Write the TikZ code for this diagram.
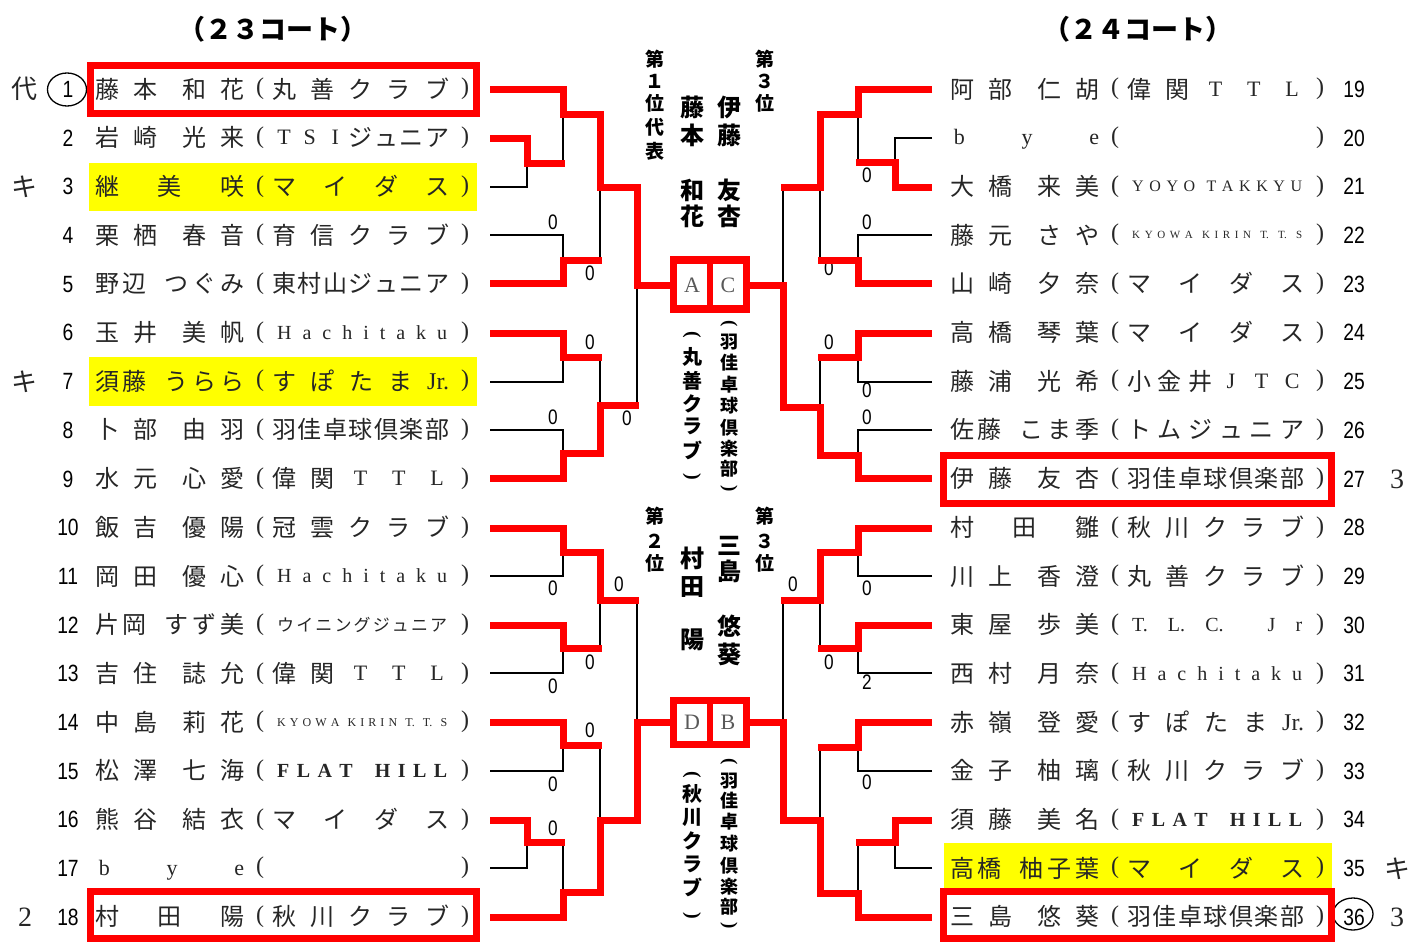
\documentclass[tikz,border=0pt]{standalone}
\usepackage{fontspec}
\setmainfont{Liberation Serif}
\newfontfamily\jp{Noto Sans CJK JP}
\newfontfamily\nf[FakeStretch=0.82]{Liberation Sans}
\definecolor{rd}{HTML}{FF0000}
\definecolor{yl}{HTML}{FFFF00}
\newcommand\fl{\hskip 0pt plus 1fill\relax}
\newcommand\fll[1]{\hskip 0pt plus #1fill\relax}
\newcommand\la[2][20]{\raisebox{\dimexpr 9pt-#1pt*33/100\relax}{\rmfamily\fontsize{#1}{#1}\selectfont #2}}
\newcommand\fw[2][22]{\makebox[24pt]{\la[#1]{#2}}}
\newcommand\lcl[2][20]{\raisebox{\dimexpr 9pt-#1pt*33/100\relax}{\rmfamily\fontsize{#1}{#1}\selectfont\hbox to 177pt{\hskip 5pt #2\hskip 2pt}}}
\newcommand\nA[4]{\hbox to 149pt{#1\fl #2\fll{1.8}#3\fl #4}}
\newcommand\nB[3]{\hbox to 149pt{#1\fl #2\fl #3}}
\newcommand\nC[5]{\hbox to 149pt{#1\fl #2\fll{5}#3\fl #4\fl #5}}
\newcommand\cl[1]{\hbox to 177pt{#1}}
\newcommand\plyr[6]{%
  \pgfmathsetmacro\ry{89+48.7*(#2-1)}%
  \node[txt] (nm#3) at ({95+#1},{\ry+9}) {#4};
  \node[par] (pl#3) at ({260+#1},{\ry+5.7}) {(};
  \node[txt] (cl#3) at ({272+#1},{\ry+9}) {#5};
  \node[par] (pr#3) at ({465+#1},{\ry+5.7}) {)};
  \node[num] (no#3) at ({#6},{\ry+8.4}) {#3};
}
\tikzset{
  txt/.style={anchor=base west, inner sep=0, font=\jp\fontsize{24}{24}\selectfont, text=black!85},
  par/.style={anchor=base, inner sep=0, font=\rmfamily\fontsize{24}{24}\selectfont, text=black!85},
  num/.style={anchor=base, inner sep=0, font=\nf\fontsize{23.5}{23.5}\selectfont},
  sc/.style={anchor=base, inner sep=0, font=\nf\fontsize{21}{21}\selectfont},
  mk/.style={anchor=base, inner sep=0, font=\jp\fontsize{26}{26}\selectfont, text=black!85},
  mkd/.style={anchor=base, inner sep=0, font=\rmfamily\fontsize{28}{28}\selectfont, text=black!85},
  vb/.style={anchor=base, inner sep=0, font=\jp\bfseries\fontsize{#1}{#1}\selectfont, yshift={-0.38*#1}},
  vp/.style={rotate=-90, inner sep=0, font=\rmfamily\bfseries\fontsize{#1}{#1}\selectfont},
  bx/.style={anchor=base, inner sep=0, font=\rmfamily\fontsize{22}{22}\selectfont, text=black!65},
  blk/.style={line width=2.3, black},
  rl/.style={rd, line width=7, line join=miter},
}
\begin{document}
\begin{tikzpicture}[x=1pt,y=-1pt]
\useasboundingbox (0,0) rectangle (1413,942);
% yellow highlights
\fill[yl] (89,163) rectangle (477,211);
\fill[yl] (89,357) rectangle (477,406);
\fill[yl] (944,843) rectangle (1332,888);
% headers
\node[anchor=base, inner sep=0, font=\jp\bfseries\fontsize{27}{27}\selectfont] (h1) at (273,39.5) {（２３コート）};
\node[anchor=base, inner sep=0, font=\jp\bfseries\fontsize{27}{27}\selectfont] (h2) at (1138,39.5) {（２４コート）};
% left players
\plyr{0}{1}{1}{\nA{藤}{本}{和}{花}}{\cl{丸\fl 善\fl ク\fl ラ\fl ブ}}{68}
\plyr{0}{2}{2}{\nA{岩}{崎}{光}{来}}{\cl{\fw{T}\fl\fw{S}\fl\fw{I}\fl ジ\fl ュ\fl ニ\fl ア}}{68}
\plyr{0}{3}{3}{\nB{継}{美}{咲}}{\cl{マ\fl イ\fl ダ\fl ス}}{68}
\plyr{0}{4}{4}{\nA{栗}{栖}{春}{音}}{\cl{育\fl 信\fl ク\fl ラ\fl ブ}}{68}
\plyr{0}{5}{5}{\nC{野}{辺}{つ}{ぐ}{み}}{\cl{東\fl 村\fl 山\fl ジ\fl ュ\fl ニ\fl ア}}{68}
\plyr{0}{6}{6}{\nA{玉}{井}{美}{帆}}{\lcl{H\fl a\fl c\fl h\fl i\fl t\fl a\fl k\fl u}}{68}
\plyr{0}{7}{7}{\nC{須}{藤}{う}{ら}{ら}}{\cl{す\fl ぽ\fl た\fl ま\fl \la[24]{Jr.}}}{68}
\plyr{0}{8}{8}{\nA{卜}{部}{由}{羽}}{\cl{羽\fl 佳\fl 卓\fl 球\fl 倶\fl 楽\fl 部}}{68}
\plyr{0}{9}{9}{\nA{水}{元}{心}{愛}}{\cl{偉\fl 関\fl \fw{T}\fl\fw{T}\fl\fw{L}}}{68}
\plyr{0}{10}{10}{\nA{飯}{吉}{優}{陽}}{\cl{冠\fl 雲\fl ク\fl ラ\fl ブ}}{68}
\plyr{0}{11}{11}{\nA{岡}{田}{優}{心}}{\lcl{H\fl a\fl c\fl h\fl i\fl t\fl a\fl k\fl u}}{68}
\plyr{0}{12}{12}{\nC{片}{岡}{す}{ず}{美}}{\raisebox{2.5pt}{\fontsize{17}{17}\selectfont\hbox to 177pt{\hskip 5pt ウ\fl イ\fl ニ\fl ン\fl グ\fl ジ\fl ュ\fl ニ\fl ア\hskip 2pt}}}{68}
\plyr{0}{13}{13}{\nA{吉}{住}{誌}{允}}{\cl{偉\fl 関\fl \fw{T}\fl\fw{T}\fl\fw{L}}}{68}
\plyr{0}{14}{14}{\nA{中}{島}{莉}{花}}{\lcl[12]{K\fl Y\fl O\fl W\fl A\fll{2}K\fl I\fl R\fl I\fl N\fll{2}T.\fll{2}T.\fll{2}S}}{68}
\plyr{0}{15}{15}{\nA{松}{澤}{七}{海}}{\lcl{\bfseries F\fl L\fl A\fl T\fll{3}H\fl I\fl L\fl L}}{68}
\plyr{0}{16}{16}{\nA{熊}{谷}{結}{衣}}{\cl{マ\fl イ\fl ダ\fl ス}}{68}
\plyr{0}{17}{17}{\nB{\la[22]{\,b}}{\la[22]{y}}{\la[22]{e}}}{\cl{}}{68}
\plyr{0}{18}{18}{\nB{村}{田}{陽}}{\cl{秋\fl 川\fl ク\fl ラ\fl ブ}}{68}
% right players
\plyr{855}{1}{19}{\nA{阿}{部}{仁}{胡}}{\cl{偉\fl 関\fl \fw{T}\fl\fw{T}\fl\fw{L}}}{1354}
\plyr{855}{2}{20}{\nB{\la[22]{\,b}}{\la[22]{y}}{\la[22]{e}}}{\cl{}}{1354}
\plyr{855}{3}{21}{\nA{大}{橋}{来}{美}}{\lcl[16]{Y\fl O\fl Y\fl O\fll{2}T\fl A\fl K\fl K\fl Y\fl U}}{1354}
\plyr{855}{4}{22}{\nA{藤}{元}{さ}{や}}{\lcl[11]{K\fl Y\fl O\fl W\fl A\fll{2}K\fl I\fl R\fl I\fl N\fll{2}T.\fll{2}T.\fll{2}S}}{1354}
\plyr{855}{5}{23}{\nA{山}{崎}{夕}{奈}}{\cl{マ\fl イ\fl ダ\fl ス}}{1354}
\plyr{855}{6}{24}{\nA{高}{橋}{琴}{葉}}{\cl{マ\fl イ\fl ダ\fl ス}}{1354}
\plyr{855}{7}{25}{\nA{藤}{浦}{光}{希}}{\cl{小\fl 金\fl 井\fl \fw{J}\fl\fw{T}\fl\fw{C}}}{1354}
\plyr{855}{8}{26}{\nC{佐}{藤}{こ}{ま}{季}}{\cl{ト\fl ム\fl ジ\fl ュ\fl ニ\fl ア}}{1354}
\plyr{855}{9}{27}{\nA{伊}{藤}{友}{杏}}{\cl{羽\fl 佳\fl 卓\fl 球\fl 倶\fl 楽\fl 部}}{1354}
\plyr{855}{10}{28}{\nB{村}{田}{雛}}{\cl{秋\fl 川\fl ク\fl ラ\fl ブ}}{1354}
\plyr{855}{11}{29}{\nA{川}{上}{香}{澄}}{\cl{丸\fl 善\fl ク\fl ラ\fl ブ}}{1354}
\plyr{855}{12}{30}{\nA{東}{屋}{歩}{美}}{\lcl{T.\fl L.\fl C.\fll{2.2}J\fl r}}{1354}
\plyr{855}{13}{31}{\nA{西}{村}{月}{奈}}{\lcl{H\fl a\fl c\fl h\fl i\fl t\fl a\fl k\fl u}}{1354}
\plyr{855}{14}{32}{\nA{赤}{嶺}{登}{愛}}{\cl{す\fl ぽ\fl た\fl ま\fl \la[24]{Jr.}}}{1354}
\plyr{855}{15}{33}{\nA{金}{子}{柚}{璃}}{\cl{秋\fl 川\fl ク\fl ラ\fl ブ}}{1354}
\plyr{855}{16}{34}{\nA{須}{藤}{美}{名}}{\lcl{\bfseries F\fl L\fl A\fl T\fll{3}H\fl I\fl L\fl L}}{1354}
\plyr{855}{17}{35}{\nC{高}{橋}{柚}{子}{葉}}{\cl{マ\fl イ\fl ダ\fl ス}}{1354}
\plyr{855}{18}{36}{\nA{三}{島}{悠}{葵}}{\cl{羽\fl 佳\fl 卓\fl 球\fl 倶\fl 楽\fl 部}}{1354}
% circled numbers
\draw[line width=1.3] (67,89.5) ellipse [x radius=19.5, y radius=16.5];
\draw[line width=1.3] (1353,914) ellipse [x radius=20, y radius=16];
% side marks
\node[mk] (m1) at (25,98.9) {代};
\node[mk] (m2) at (25,196.3) {キ};
\node[mk] (m3) at (25,391.1) {キ};
\node[mkd] (m4) at (25,926.5) {2};
\node[mkd] (m5) at (1397,488.1) {3};
\node[mk] (m6) at (1397,878.1) {キ};
\node[mkd] (m7) at (1397,926.5) {3};
% scores
\foreach \x/\y/\t [count=\k] in {553/222/0, 590/273/0, 590/342/0, 553/417/0, 627/418/0, 553/588/0, 619/584/0, 590/662/0, 553/686/0, 590/730/0, 553/784/0, 553/828/0, 867/175/0, 867/222/0, 829/268/0, 829/342/0, 867/390/0, 867/417/0, 793/584/0, 867/588/0, 829/662/0, 867/682/2, 867/782/0}
  \node[sc] (s\k) at (\x,\y+7.5) {\t};
% center vertical texts
\foreach \c/\y [count=\k] in {第/59,１/81,位/103,代/127,表/151} \node[vb=19] (ta\k) at (655,\y) {\c};
\foreach \c/\y [count=\k] in {第/59,３/81,位/103} \node[vb=19] (tb\k) at (765,\y) {\c};
\foreach \c/\y [count=\k] in {藤/107,本/135,和/190,花/216} \node[vb=24] (tc\k) at (692,\y) {\c};
\foreach \c/\y [count=\k] in {伊/107,藤/135,友/190,杏/216} \node[vb=24] (td\k) at (729,\y) {\c};
\foreach \c/\y [count=\k] in {丸/357,善/381,ク/404,ラ/426,ブ/451} \node[vb=20] (te\k) at (692,\y) {\c};
\foreach \c/\y [count=\k] in {羽/342,佳/363,卓/385,球/406,倶/428,楽/449,部/469} \node[vb=18] (tf\k) at (729,\y) {\c};
\node[vp=20] (pa1) at (692,335) {(};
\node[vp=20] (pa2) at (692,477) {)};
\node[vp=19] (pa3) at (729,324) {(};
\node[vp=19] (pa4) at (729,489) {)};
\foreach \c/\y [count=\k] in {第/516,２/541,位/563} \node[vb=19] (tg\k) at (655,\y) {\c};
\foreach \c/\y [count=\k] in {第/516,３/541,位/563} \node[vb=19] (th\k) at (765,\y) {\c};
\foreach \c/\y [count=\k] in {村/558,田/586,陽/639} \node[vb=24] (ti\k) at (692,\y) {\c};
\foreach \c/\y [count=\k] in {三/545,島/571,悠/626,葵/654} \node[vb=24] (tj\k) at (729,\y) {\c};
\foreach \c/\y [count=\k] in {秋/794,川/817,ク/841,ラ/864,ブ/888} \node[vb=20] (tk\k) at (692,\y) {\c};
\foreach \c/\y [count=\k] in {羽/781,佳/801,卓/822,球/844,倶/866,楽/887,部/907} \node[vb=18] (tl\k) at (729,\y) {\c};
\node[vp=20] (pb1) at (692,775) {(};
\node[vp=20] (pb2) at (692,916) {)};
\node[vp=19] (pb3) at (729,762) {(};
\node[vp=19] (pb4) at (729,926) {)};
% box letters
\node[bx] (bA) at (692,292.3) {A};
\node[bx] (bC) at (728,292.3) {C};
\node[bx] (bD) at (692,729.3) {D};
\node[bx] (bB) at (728,729.3) {B};
% black bracket lines
\draw[blk] (490,187) -- (527,187) -- (527,163);
\draw[blk] (563,114) -- (563,163);
\draw[blk] (490,235) -- (563,235) -- (563,260);
\draw[blk] (600,187) -- (600,260);
\draw[blk] (490,382) -- (563,382) -- (563,357);
\draw[blk] (490,430) -- (563,430) -- (563,453);
\draw[blk] (600,357) -- (600,405);
\draw[blk] (637,285) -- (637,405);
\draw[blk] (490,576) -- (563,576) -- (563,552);
\draw[blk] (490,673) -- (563,673) -- (563,648);
\draw[blk] (600,600) -- (600,648);
\draw[blk] (637,600) -- (637,722);
\draw[blk] (490,771) -- (563,771) -- (563,745);
\draw[blk] (490,868) -- (527,868) -- (527,842);
\draw[blk] (563,842) -- (563,892);
\draw[blk] (600,745) -- (600,820);
\draw[blk] (932,138) -- (895,138) -- (895,162);
\draw[blk] (858,114) -- (858,162);
\draw[blk] (932,235) -- (858,235) -- (858,260);
\draw[blk] (820,187) -- (820,260);
\draw[blk] (783,187) -- (783,285);
\draw[blk] (932,382) -- (858,382) -- (858,357);
\draw[blk] (932,430) -- (858,430) -- (858,455);
\draw[blk] (820,357) -- (820,407);
\draw[blk] (932,576) -- (858,576) -- (858,552);
\draw[blk] (932,673) -- (858,673) -- (858,648);
\draw[blk] (820,600) -- (820,648);
\draw[blk] (783,600) -- (783,722);
\draw[blk] (932,771) -- (858,771) -- (858,747);
\draw[blk] (932,868) -- (895,868) -- (895,842);
\draw[blk] (858,842) -- (858,893);
\draw[blk] (820,747) -- (820,820);
% red winner lines
\draw[rl] (490,89) -- (563,89) -- (563,114) -- (600,114) -- (600,187) -- (637,187) -- (637,285) -- (670,285);
\draw[rl] (490,138) -- (527,138) -- (527,163) -- (565,163);
\draw[rl] (490,283) -- (563,283) -- (563,260) -- (602,260);
\draw[rl] (490,333) -- (563,333) -- (563,357) -- (602,357);
\draw[rl] (490,478) -- (563,478) -- (563,453) -- (600,453) -- (600,405) -- (639,405);
\draw[rl] (490,528) -- (563,528) -- (563,552) -- (600,552) -- (600,600) -- (639,600);
\draw[rl] (490,625) -- (563,625) -- (563,648) -- (602,648);
\draw[rl] (490,722) -- (563,722) -- (563,745) -- (602,745);
\draw[rl] (490,820) -- (527,820) -- (527,842) -- (565,842);
\draw[rl] (490,917) -- (563,917) -- (563,892) -- (600,892) -- (600,820) -- (637,820) -- (637,722) -- (670,722);
\draw[rl] (932,89) -- (858,89) -- (858,114) -- (820,114) -- (820,187) -- (781,187);
\draw[rl] (932,187) -- (895,187) -- (895,162) -- (856,162);
\draw[rl] (932,283) -- (858,283) -- (858,260) -- (818,260);
\draw[rl] (932,333) -- (858,333) -- (858,357) -- (818,357);
\draw[rl] (750,285) -- (783,285) -- (783,407) -- (820,407) -- (820,455) -- (858,455) -- (858,478) -- (932,478);
\draw[rl] (932,528) -- (858,528) -- (858,552) -- (820,552) -- (820,600) -- (781,600);
\draw[rl] (932,625) -- (858,625) -- (858,648) -- (818,648);
\draw[rl] (932,722) -- (858,722) -- (858,747) -- (818,747);
\draw[rl] (932,820) -- (895,820) -- (895,842) -- (856,842);
\draw[rl] (750,722) -- (783,722) -- (783,820) -- (820,820) -- (820,893) -- (858,893) -- (858,917) -- (932,917);
% final boxes
\draw[rd, line width=7.5] (673.5,260) rectangle (746.5,309);
\draw[rd, line width=6] (710,260) -- (710,309);
\draw[rd, line width=7.5] (673.5,700.5) rectangle (746.5,744.5);
\draw[rd, line width=6] (710,700.5) -- (710,744.5);
% winner name boxes
\draw[rd, line width=7.5] (90.5,65.5) rectangle (476.5,113.5);
\draw[rd, line width=7.5] (90.5,891.5) rectangle (476.5,938.5);
\draw[rd, line width=7.5] (943.5,455.5) rectangle (1331.5,503.5);
\draw[rd, line width=7.5] (943.5,891.5) rectangle (1331.5,938.5);
\end{tikzpicture}
\end{document}
